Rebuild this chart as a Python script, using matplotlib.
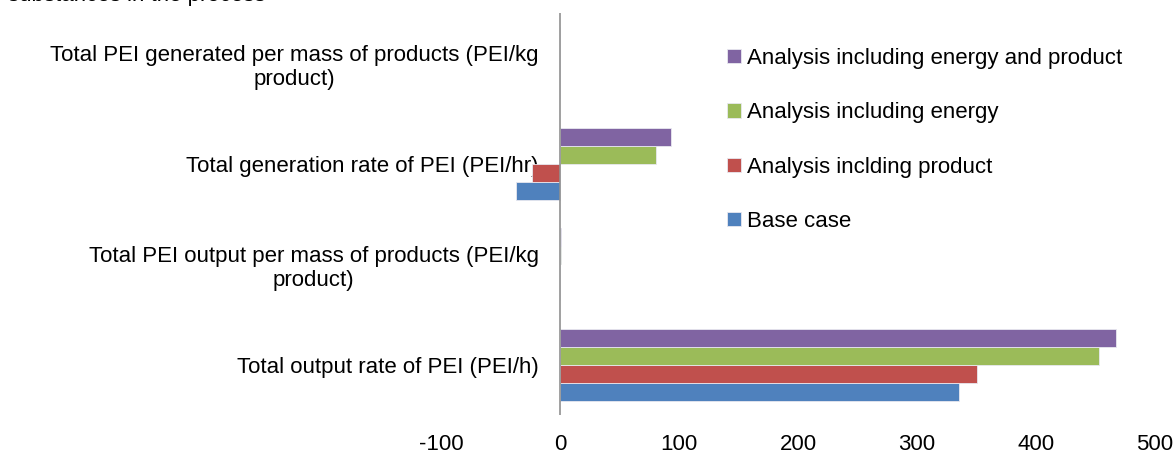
import matplotlib.pyplot as plt
import numpy as np

plt.rcParams["font.family"] = ["Liberation Sans", "DejaVu Sans"]
plt.rcParams["axes.unicode_minus"] = False

# categories bottom -> top
categories = [
    "Total output rate of PEI (PEI/h)",
    "Total PEI output per mass of products (PEI/kg\nproduct)",
    "Total generation rate of PEI (PEI/hr)",
    "Total PEI generated per mass of products (PEI/kg\nproduct)",
]
series_names = [
    "Base case",
    "Analysis inclding product",
    "Analysis including energy",
    "Analysis including energy and product",
]
base_case = [335, 0.4, -37, 0.05]
incl_product = [350, 0.4, -23.5, 0.05]
incl_energy = [453, 0.5, 80.7, 0.1]
incl_energy_product = [467, 0.5, 93, 0.1]
colors = ["#4F81BD", "#C0504D", "#9BBB59", "#8064A2"]

fig = plt.figure(figsize=(11.76, 4.54), dpi=100)
ax = fig.add_axes([441 / 1176, 39 / 454, 714 / 1176, 402 / 454])

y = np.arange(len(categories))
h = 0.18
all_series = [base_case, incl_product, incl_energy, incl_energy_product]
for i, (vals, name, c) in enumerate(zip(all_series, series_names, colors)):
    ax.barh(y + (i - 1.5) * h, vals, height=h, color=c, label=name,
            edgecolor="#e8e8f0", linewidth=0.6, zorder=2)

ax.set_xlim(-100, 500)
ax.set_ylim(-0.5, 3.5)
ax.set_xticks(range(-100, 501, 100))
ax.set_yticks(y)
ax.set_yticklabels(categories, multialignment="center")
# labels sit just left of the zero line
ax.tick_params(axis="y", length=0, pad=-99 * 0.72 + 1, labelsize=16)
ax.tick_params(axis="x", length=0, pad=14, labelsize=16)

for s in ["top", "right", "bottom", "left"]:
    ax.spines[s].set_visible(False)
ax.axvline(0, color="#909090", linewidth=1.2, zorder=3)

handles, labels = ax.get_legend_handles_labels()
fig.legend(handles[::-1], labels[::-1], loc="upper left",
           bbox_to_anchor=(727 / 1176, 1 - 48 / 454), frameon=False,
           fontsize=16, borderpad=0, borderaxespad=0,
           handlelength=0.63, handleheight=0.63, handletextpad=0.27,
           labelspacing=1.5)

# title line cut off at the top edge in the source image
fig.text(8 / 1176, 1 - 0.5 / 454, "substances in the process", fontsize=16,
         va="baseline", ha="left")

fig.savefig("out.png", dpi=100)
